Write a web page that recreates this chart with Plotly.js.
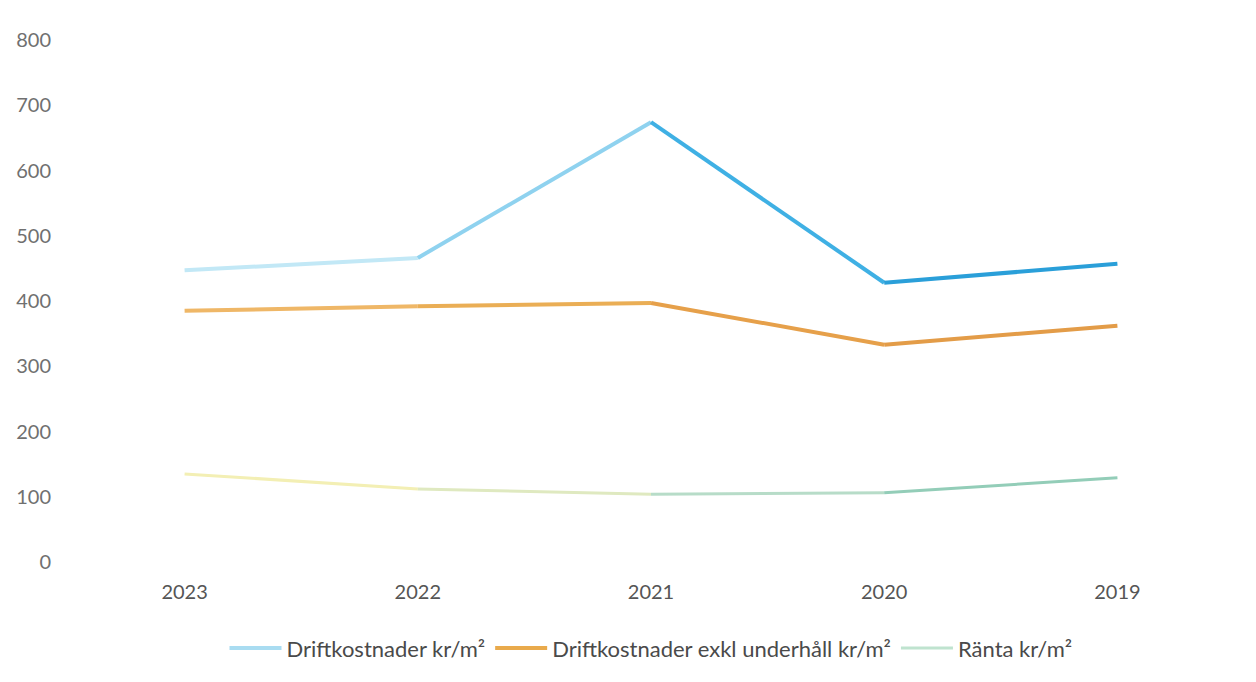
<!DOCTYPE html>
<html><head><meta charset="utf-8">
<script src="https://cdn.plot.ly/plotly-3.0.1.min.js"></script>
<style>html,body{margin:0;padding:0;background:#fff}#c{width:1256px;height:682px}</style>
</head><body><div id="c"></div>
<script>
const years = ["2023","2022","2021","2020","2019"];
const drift = [447, 466, 674, 428, 457];
const driftExkl = [385, 392, 397, 333, 362];
const ranta = [135, 112, 104, 106, 129];
const names = ["Driftkostnader kr/m²", "Driftkostnader exkl underhåll kr/m²", "Ränta kr/m²"];
const yTicks = [0,100,200,300,400,500,600,700,800];

const seriesList = [
  {y: drift, name: names[0], width: 4, legendColor: "#a9dcf1",
   colors: ["#c2e8f6", "#8fd2ef", "#3fb0e4", "#2a9fd9"]},
  {y: driftExkl, name: names[1], width: 4, legendColor: "#e9aa4c",
   colors: ["#efb767", "#eaae55", "#e6a04a", "#e39c48"]},
  {y: ranta, name: names[2], width: 3, legendColor: "#bfe3cf",
   colors: ["#f3efb4", "#dfe9c0", "#b7dcc8", "#93cdb8"]}
];

const traces = [];
seriesList.forEach((s, si) => {
  for (let i = 0; i < years.length - 1; i++) {
    traces.push({
      type: "scatter", mode: "lines",
      x: [years[i], years[i+1]], y: [s.y[i], s.y[i+1]],
      name: s.name, legendgroup: "g" + si,
      showlegend: false,
      line: {color: s.colors[i], width: s.width},
      hoverinfo: "x+y+name"
    });
  }
  traces.push({
    type: "scatter", mode: "lines", x: [null], y: [null],
    name: s.name, legendgroup: "g" + si, showlegend: true,
    line: {color: s.legendColor, width: s.width}
  });
});

const layout = {
  width: 1256, height: 682,
  margin: {l: 68, r: 22, t: 40, b: 120},
  paper_bgcolor: "#ffffff", plot_bgcolor: "#ffffff",
  font: {family: "Lato, Liberation Sans, sans-serif", color: "#5a5a5a", size: 18},
  xaxis: {type: "category", categoryorder: "array", categoryarray: years,
          range: [-0.5, 4.5], showgrid: false, zeroline: false, showline: false,
          ticks: "", tickfont: {size: 20, color: "#555555"}, ticklabelstandoff: 16},
  yaxis: {range: [0, 800], tickvals: yTicks, showgrid: false,
          zeroline: false, showline: false, ticks: "",
          tickfont: {size: 20, color: "#707070"}, ticklabelstandoff: 16},
  legend: {orientation: "h", x: 0.5, xanchor: "center", y: -0.125, yanchor: "top",
           font: {size: 22, color: "#4a4a4a"}, itemwidth: 52, traceorder: "normal"},
  showlegend: true
};

Plotly.newPlot("c", traces, layout, {displayModeBar: false, staticPlot: true});
</script></body></html>
